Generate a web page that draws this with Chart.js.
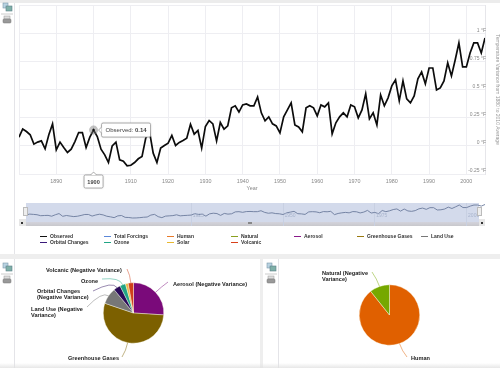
<!DOCTYPE html>
<html>
<head>
<meta charset="utf-8">
<script src="https://cdn.jsdelivr.net/npm/chart.js@4"></script>
<style>
html, body { margin: 0; padding: 0; background: #fff; }
body { position: relative; width: 500px; height: 368px; overflow: hidden; font-family: "Liberation Sans", sans-serif; filter: blur(0.3px); }
canvas { position: absolute; }
.box { position: absolute; }
.legend { position: absolute; font-size: 5px; font-weight: bold; color: #333; line-height: 6px; white-space: nowrap; }
.swatch { position: absolute; height: 1px; width: 7px; }
</style>
</head>
<body>
<div class="box" style="left:0;top:0;width:500px;height:3px;background:#ececec"></div>
<div class="box" style="left:14px;top:3px;width:1px;height:251px;background:#e4e4e8"></div>
<div class="box" style="left:0;top:254px;width:500px;height:5px;background:#eeeeee"></div>
<div class="box" style="left:14px;top:259px;width:1px;height:109px;background:#e4e4e8"></div>
<div class="box" style="left:260px;top:259px;width:3px;height:109px;background:#eeeeee"></div>
<div class="box" style="left:278px;top:259px;width:1px;height:109px;background:#e4e4e8"></div>
<div class="box" style="left:0;top:363px;width:500px;height:5px;background:linear-gradient(rgba(225,225,225,0),rgba(225,225,225,.8))"></div>

<!-- navigator band -->
<div class="box" style="left:26px;top:203px;width:453px;height:19px;background:#d3daeb"></div>
<div class="box" style="left:26px;top:222px;width:453px;height:4px;background:linear-gradient(#d3d3dc,#c8c8cc)"></div>
<div class="box" style="left:19px;top:219px;width:7px;height:7px;background:#e6e6e6"></div>
<div class="box" style="left:479px;top:219px;width:6px;height:7px;background:#e6e6e6"></div>
<div class="box" style="left:21px;top:222px;width:2px;height:2px;background:#333"></div>
<div class="box" style="left:481px;top:222px;width:2px;height:2px;background:#333"></div>
<div class="box" style="left:248px;top:222px;width:4px;height:2px;background:#888"></div>

<canvas id="main" width="500" height="192" style="left:0;top:0;width:500px;height:192px"></canvas>
<canvas id="nav" width="500" height="23" style="left:0;top:203px;width:500px;height:23px"></canvas>
<div class="box" style="left:23px;top:207px;width:3px;height:7px;background:#eee;border:1px solid #bbb"></div>
<div class="box" style="left:477px;top:207px;width:3px;height:7px;background:#eee;border:1px solid #bbb"></div>
<canvas id="pieForcings" width="237" height="106" style="left:15px;top:260px;width:237px;height:106px"></canvas>
<canvas id="pieSources" width="221" height="108" style="left:279px;top:261px;width:221px;height:108px"></canvas>

<script>
const years = [1880,1881,1882,1883,1884,1885,1886,1887,1888,1889,
  1890,1891,1892,1893,1894,1895,1896,1897,1898,1899,
  1900,1901,1902,1903,1904,1905,1906,1907,1908,1909,
  1910,1911,1912,1913,1914,1915,1916,1917,1918,1919,
  1920,1921,1922,1923,1924,1925,1926,1927,1928,1929,
  1930,1931,1932,1933,1934,1935,1936,1937,1938,1939,
  1940,1941,1942,1943,1944,1945,1946,1947,1948,1949,
  1950,1951,1952,1953,1954,1955,1956,1957,1958,1959,
  1960,1961,1962,1963,1964,1965,1966,1967,1968,1969,
  1970,1971,1972,1973,1974,1975,1976,1977,1978,1979,
  1980,1981,1982,1983,1984,1985,1986,1987,1988,1989,
  1990,1991,1992,1993,1994,1995,1996,1997,1998,1999,
  2000,2001,2002,2003,2004,2005];

const observed = [0.077,0.15,0.127,0.098,0.015,0.033,0.044,-0.027,0.098,0.195,
  -0.036,0.033,-0.015,-0.059,-0.03,0.038,0.118,0.118,-0.015,0.077,
  0.14,0.083,-0.03,-0.08,-0.148,0,0.033,-0.124,-0.136,-0.178,
  -0.172,-0.148,-0.115,-0.095,0.068,0.127,-0.065,-0.148,-0.02,0.003,
  0.024,0.092,0.003,0.03,0.047,0.068,0.192,0.104,0.136,-0.02,
  0.172,0.225,0.195,0.044,0.207,0.148,0.178,0.337,0.355,0.3,
  0.363,0.372,0.355,0.355,0.434,0.293,0.222,0.257,0.195,0.177,
  0.115,0.257,0.319,0.381,0.186,0.168,0.124,0.337,0.355,0.337,
  0.266,0.363,0.346,0.381,0.106,0.204,0.257,0.293,0.257,0.363,
  0.346,0.248,0.319,0.461,0.239,0.293,0.186,0.452,0.355,0.426,
  0.532,0.585,0.399,0.576,0.417,0.381,0.443,0.594,0.656,0.55,
  0.691,0.691,0.496,0.514,0.576,0.736,0.621,0.762,0.913,0.7,
  0.7,0.824,0.913,0.913,0.824,0.957];

const yTickLabels = { '1': '1 °F', '0.75': '0.75 °F', '0.5': '0.5 °F', '0.25': '0.25 °F', '0': '0 °F', '-0.25': '-0.25 °F' };
const navTicks = [1925, 1950, 1975, 2000];

const legendNames = ['Observed','Total Forcings','Human','Natural','Aerosol','Greenhouse Gases','Land Use','Orbital Changes','Ozone','Solar','Volcanic'];
const legendColors = ['#111111','#5b87d8','#e87a2a','#8aa020','#8a1a8a','#9a7a10','#777777','#3a1a7a','#20a585','#e8b830','#d8401a'];

const forcingLabels = ['Aerosol (Negative Variance)','Greenhouse Gases','Land Use (Negative Variance)','Orbital Changes (Negative Variance)','Ozone','Solar','Volcanic (Negative Variance)'];
const forcingValues = [26, 54.2, 8.8, 3.7, 3, 1.5, 2.8];
const forcingColors = ['#7a0a7a','#7c6000','#777777','#2a0a5a','#20a585','#e8b84a','#d0401a'];

const sourceLabels = ['Human','Natural (Negative Variance)'];
const sourceValues = [89.3, 10.7];
const sourceColors = ['#e06000','#76a800'];

const FONT = '"Liberation Sans", sans-serif';
const highlightYear = 1900;

// legend
legendNames.forEach((name, i) => {
  const col = i < 7 ? i : i - 7;
  const x = [40, 104, 167, 231, 294, 357, 421][col];
  const y = i < 7 ? 236 : 242;
  const s = document.createElement('div');
  s.className = 'swatch';
  s.style.cssText = `left:${x}px;top:${y}px;background:${legendColors[i]}`;
  document.body.appendChild(s);
  const t = document.createElement('div');
  t.className = 'legend';
  t.textContent = name;
  t.style.cssText = `left:${x + 10}px;top:${y - 3}px`;
  document.body.appendChild(t);
});

// toolbar icons
function addIcons(x, y) {
  const d = document.createElement('div');
  d.className = 'box';
  d.style.cssText = `left:${x}px;top:${y}px;width:12px;height:24px`;
  d.innerHTML = '<svg width="12" height="24"><rect x="2" y="2" width="5" height="5" fill="#b9d3e2" stroke="#7a97a8" stroke-width=".6"/>' +
    '<rect x="5" y="5" width="6" height="5" fill="#7fb0a8" stroke="#5b7f88" stroke-width=".6"/>' +
    '<line x1="0" y1="13" x2="12" y2="13" stroke="#ccc"/>' +
    '<rect x="3" y="15" width="6" height="3" fill="#ddd" stroke="#999" stroke-width=".5"/>' +
    '<rect x="2" y="18" width="8" height="4" rx="1" fill="#999" stroke="#777" stroke-width=".5"/></svg>';
  document.body.appendChild(d);
}
addIcons(1, 1);
addIcons(1, 261);
addIcons(265, 261);

function roundBox(ctx, x, y, w, h) {
  ctx.beginPath();
  ctx.roundRect(x, y, w, h, 1.5);
  ctx.fillStyle = '#fff';
  ctx.shadowColor = 'rgba(0,0,0,.25)';
  ctx.shadowBlur = 2;
  ctx.fill();
  ctx.shadowBlur = 0;
  ctx.strokeStyle = '#999';
  ctx.lineWidth = .8;
  ctx.stroke();
}

// small pointer on a callout, p0 and p2 sit on the box edge
function pointer(ctx, p0, p1, p2) {
  ctx.beginPath();
  ctx.moveTo(p0[0], p0[1]);
  ctx.lineTo(p1[0], p1[1]);
  ctx.lineTo(p2[0], p2[1]);
  ctx.fillStyle = '#fff';
  ctx.fill();
  ctx.strokeStyle = '#999';
  ctx.lineWidth = .8;
  ctx.stroke();
}

// hover marker, value tooltip and year flag at the highlighted year
const hoverPlugin = {
  id: 'hoverMark',
  afterDatasetsDraw(chart) {
    const ctx = chart.ctx;
    const i = years.indexOf(highlightYear);
    const px = chart.scales.x.getPixelForValue(highlightYear);
    const py = chart.scales.y.getPixelForValue(observed[i]);
    const bottom = chart.chartArea.bottom;
    ctx.save();
    ctx.fillStyle = 'rgba(120,120,120,.45)';
    ctx.beginPath();
    ctx.arc(px, py, 4.5, 0, Math.PI * 2);
    ctx.fill();
    ctx.fillStyle = '#111';
    ctx.beginPath();
    ctx.arc(px, py, 1.2, 0, Math.PI * 2);
    ctx.fill();

    roundBox(ctx, px + 8, py - 7, 49, 14);
    pointer(ctx, [px + 8, py - 3], [px + 5, py], [px + 8, py + 3]);
    ctx.fillStyle = '#444';
    ctx.font = '6px ' + FONT;
    ctx.textBaseline = 'middle';
    ctx.textAlign = 'left';
    ctx.fillText('Observed: ', px + 12, py);
    const w = ctx.measureText('Observed: ').width;
    ctx.font = 'bold 6px ' + FONT;
    ctx.fillText(observed[i].toFixed(2), px + 12 + w, py);

    roundBox(ctx, px - 9.5, bottom + 1, 19, 13);
    pointer(ctx, [px - 3, bottom + 1], [px, bottom - 2], [px + 3, bottom + 1]);
    ctx.fillStyle = '#444';
    ctx.font = 'bold 5.6px ' + FONT;
    ctx.textAlign = 'center';
    ctx.fillText(String(highlightYear), px, bottom + 8);
    ctx.restore();
  }
};

new Chart(document.getElementById('main'), {
  type: 'line',
  data: {
    labels: years,
    datasets: [{
      label: 'Observed',
      data: years.map((y, i) => ({ x: y, y: observed[i] })),
      borderColor: '#0c0c0c',
      borderWidth: 1.7,
      pointRadius: 0,
      tension: 0,
      borderJoinStyle: 'miter'
    }]
  },
  options: {
    responsive: false,
    animation: false,
    layout: { padding: { left: 19, top: 5, right: 0, bottom: 0 } },
    plugins: { legend: { display: false }, tooltip: { enabled: false } },
    scales: {
      x: {
        type: 'linear',
        min: 1880,
        max: 2005,
        title: { display: true, text: 'Year', color: '#888', font: { size: 5.4, family: FONT }, padding: { top: 1, bottom: 0 } },
        grid: { color: '#eeeef2', lineWidth: 1, drawTicks: false },
        border: { display: false },
        ticks: {
          stepSize: 10,
          includeBounds: false,
          padding: 4,
          maxRotation: 0,
          autoSkip: false,
          color: '#888',
          font: { size: 5.4, family: FONT },
          callback: v => (v === 1880 ? '' : String(v))
        },
        afterFit(s) { s.height = 18; }
      },
      y: {
        position: 'right',
        min: -0.25,
        max: 1.25,
        title: { display: true, text: 'Temperature Variance from 1880 to 2010 Average', color: '#999', font: { size: 5, family: FONT }, padding: { top: 0, bottom: 2 } },
        grid: { color: '#eeeef2', lineWidth: 1, drawTicks: false },
        border: { display: true, color: '#e6e6ea' },
        ticks: {
          mirror: true,
          stepSize: 0.25,
          padding: 1,
          labelOffset: -3,
          color: '#888',
          font: { size: 5, family: FONT },
          callback: v => yTickLabels[String(v)] || ''
        },
        afterFit(s) { s.width = 15; }
      }
    }
  },
  plugins: [hoverPlugin]
});

// navigator year labels sit inside the band
const navLabelPlugin = {
  id: 'navLabels',
  afterDraw(chart) {
    const ctx = chart.ctx;
    ctx.save();
    ctx.fillStyle = '#a9b4cc';
    ctx.font = '5px ' + FONT;
    ctx.textAlign = 'center';
    ctx.textBaseline = 'middle';
    navTicks.forEach(v => ctx.fillText(String(v), chart.scales.x.getPixelForValue(v) + 7, 13));
    ctx.restore();
  }
};

new Chart(document.getElementById('nav'), {
  type: 'line',
  data: {
    labels: years,
    datasets: [{
      data: years.map((y, i) => ({ x: y, y: observed[i] })),
      borderColor: '#6b7a9c',
      borderWidth: 0.9,
      pointRadius: 0,
      tension: 0
    }]
  },
  options: {
    responsive: false,
    animation: false,
    layout: { padding: { left: 26, right: 15, top: 0, bottom: 0 } },
    plugins: { legend: { display: false }, tooltip: { enabled: false } },
    scales: {
      x: {
        type: 'linear',
        min: 1880,
        max: 2005,
        grid: { color: '#c8d0e2', drawTicks: false },
        border: { display: false },
        afterBuildTicks(s) { s.ticks = navTicks.map(v => ({ value: v })); },
        ticks: { display: false }
      },
      y: { display: false, min: -0.85, max: 1.083 }
    }
  },
  plugins: [navLabelPlugin]
});

// pie labels with curved leader lines
const pieLabelPlugin = {
  id: 'pieLabels',
  afterDraw(chart, args, opts) {
    const ctx = chart.ctx;
    const arcs = chart.getDatasetMeta(0).data;
    ctx.save();
    opts.items.forEach(item => {
      const a = arcs[item.index];
      const mid = (a.startAngle + a.endAngle) / 2;
      const sx = a.x + Math.cos(mid) * a.outerRadius;
      const sy = a.y + Math.sin(mid) * a.outerRadius;
      const ex = item.lx - opts.ox;
      const ey = item.ly - opts.oy;
      const cx = sx + Math.cos(mid) * 8;
      const cy = sy + Math.sin(mid) * 8;
      ctx.strokeStyle = chart.data.datasets[0].backgroundColor[item.index];
      ctx.globalAlpha = .6;
      ctx.lineWidth = .8;
      ctx.beginPath();
      ctx.moveTo(sx, sy);
      ctx.quadraticCurveTo(cx, cy, ex, ey);
      ctx.stroke();
      ctx.globalAlpha = 1;
      ctx.fillStyle = '#222';
      ctx.font = 'bold 5.6px ' + FONT;
      ctx.textAlign = 'left';
      ctx.textBaseline = 'middle';
      item.lines.forEach((line, n) => {
        ctx.fillText(line, item.x - opts.ox, item.y - opts.oy + n * 6.7);
      });
    });
    ctx.restore();
  }
};

const forcingItems = [
  { index: 0, lines: ['Aerosol (Negative Variance)'], x: 173, y: 284, lx: 168, ly: 282 },
  { index: 1, lines: ['Greenhouse Gases'], x: 68, y: 358, lx: 122, ly: 357 },
  { index: 2, lines: ['Land Use (Negative', 'Variance)'], x: 31, y: 309, lx: 87, ly: 307 },
  { index: 3, lines: ['Orbital Changes', '(Negative Variance)'], x: 37, y: 291, lx: 93, ly: 291 },
  { index: 4, lines: ['Ozone'], x: 81, y: 281, lx: 102, ly: 279 },
  { index: 6, lines: ['Volcanic (Negative Variance)'], x: 46, y: 270, lx: 127, ly: 269 }
];
const sourceItems = [
  { index: 0, lines: ['Human'], x: 411, y: 358, lx: 407, ly: 357 },
  { index: 1, lines: ['Natural (Negative', 'Variance)'], x: 322, y: 273, lx: 372, ly: 272 }
];

function makePie(id, labels, values, colors, pad, items, ox, oy) {
  new Chart(document.getElementById(id), {
    type: 'pie',
    data: { labels, datasets: [{ data: values, backgroundColor: colors, borderColor: 'rgba(255,255,240,.8)', borderWidth: .5 }] },
    options: {
      responsive: false,
      animation: false,
      layout: { padding: pad },
      plugins: { legend: { display: false }, tooltip: { enabled: false }, pieLabels: { items, ox, oy } }
    },
    plugins: [pieLabelPlugin]
  });
}
makePie('pieForcings', forcingLabels, forcingValues, forcingColors, 22.5, forcingItems, 15, 260);
makePie('pieSources', sourceLabels, sourceValues, sourceColors, 23.5, sourceItems, 279, 261);
</script>
</body>
</html>
